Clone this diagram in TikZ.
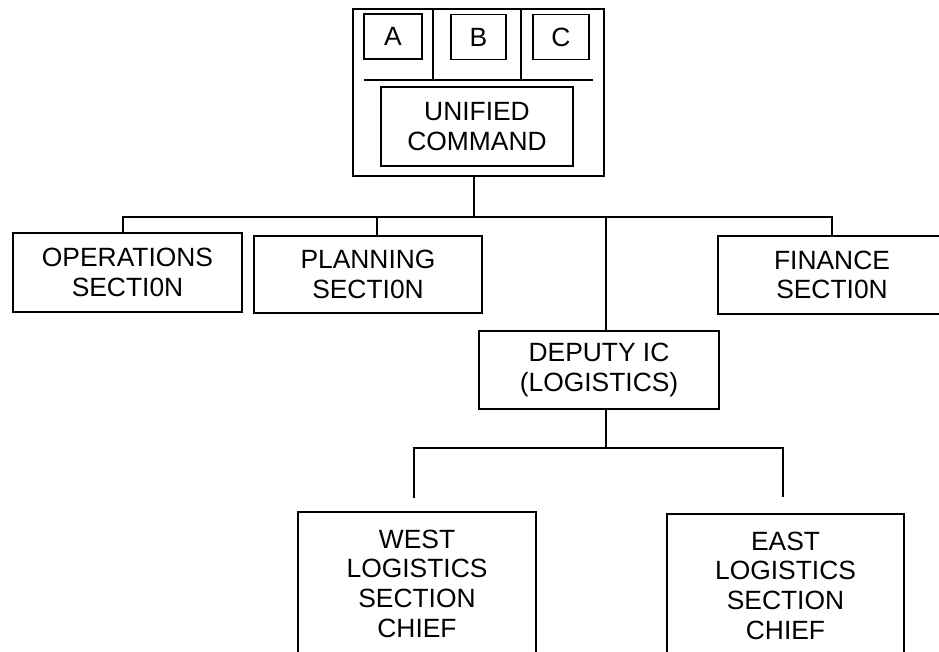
\documentclass[tikz,border=0pt]{standalone}
\usepackage{fontspec}
\setmainfont{Liberation Sans}
\usepackage{tikz}
\usetikzlibrary{calc,positioning}

\begin{document}
\begin{tikzpicture}[
  x=1pt, y=-1pt,
  box/.style={draw, line width=1.7pt, align=center, inner sep=0pt, font=\fontsize{26.4}{29.6}\selectfont},
  link/.style={line width=1.7pt}
]
\useasboundingbox (0,0) rectangle (939,651);
\clip (0,0) rectangle (939,651);
% unified command block
\node[box, minimum width=251, minimum height=167] (outer) at (478.5,92.5) {};
\node[box, minimum width=58, minimum height=45] (a) at (393,36.5) {A};
\node[box, minimum width=55, minimum height=45] (b) at (478.5,37) {B};
\node[box, minimum width=56, minimum height=45] (c) at (561,37) {C};
\node[box, minimum width=192, minimum height=79] (uc) at (477,126.5) {UNIFIED\\COMMAND};
\coordinate (ruleL) at (364,80);
\coordinate (ruleR) at (593,80);
\draw[link] (ruleL) -- (ruleR);
\draw[link] (outer.north -| 433,0) -- (ruleL -| 433,0);
\draw[link] (outer.north -| 521,0) -- (ruleL -| 521,0);
% sections
\node[box, minimum width=229, minimum height=79] (ops) at (127.5,272.5) {OPERATIONS\\SECTI0N};
\node[box, minimum width=228, minimum height=77] (plan) at (368,274.5) {PLANNING\\SECTI0N};
\node[box, minimum width=228, minimum height=78] (fin) at (832,275) {FINANCE\\SECTI0N};
\node[box, minimum width=240, minimum height=78] (dep) at (599,370) {DEPUTY IC\\(LOGISTICS)};
\coordinate (busL) at (123,217);
\coordinate (busM) at (474,217);
\coordinate (busP) at (377,217);
\coordinate (busD) at (606,217);
\coordinate (busR) at (832,217);
\draw[link] (outer.south -| busM) -- (busM);
\draw[link] (ops.north -| busL) -- (busL) -- (busR) -- (fin.north -| busR);
\draw[link] (busP) -- (plan.north -| busP);
\draw[link] (busD) -- (dep.north -| busD);
% logistics chiefs
\node[box, minimum width=238, inner ysep=18pt, anchor=north] (west) at (417,511) {WEST\\LOGISTICS\\SECTION\\CHIEF};
\node[box, minimum width=237, inner ysep=18pt, anchor=north] (east) at (785.5,513) {EAST\\LOGISTICS\\SECTION\\CHIEF};
\coordinate (lowL) at (414,448);
\coordinate (lowM) at (606,448);
\coordinate (lowR) at (783,448);
\coordinate (westend) at (414,498);
\coordinate (eastend) at (783,497);
\draw[link] (dep.south -| lowM) -- (lowM);
\draw[link] (westend) -- (lowL) -- (lowR) -- (eastend);
\end{tikzpicture}
\end{document}
